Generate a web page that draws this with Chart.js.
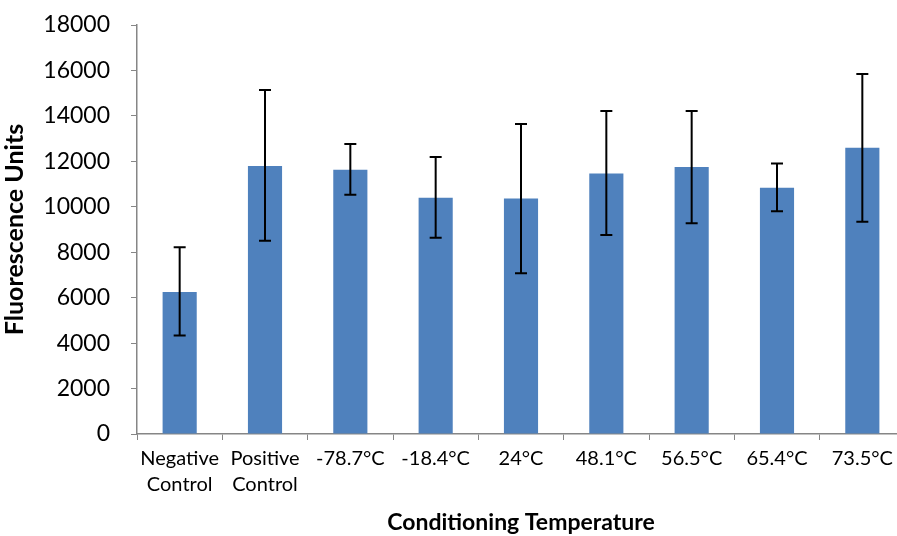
<!DOCTYPE html>
<html>
<head>
<meta charset="utf-8">
<script src="https://cdn.jsdelivr.net/npm/chart.js@4.4.1/dist/chart.umd.min.js"></script>
<style>
  html, body { margin: 0; padding: 0; background: #fff; overflow: hidden; }
  #wrap { width: 905px; height: 536px; }
</style>
</head>
<body>
<div id="wrap"><canvas id="chart"></canvas></div>
<script>
const categories = [['Negative', 'Control'], ['Positive', 'Control'], '-78.7°C', '-18.4°C', '24°C', '48.1°C', '56.5°C', '65.4°C', '73.5°C'];
const means   = [6250, 11800, 11630, 10400, 10360, 11460, 11750, 10840, 12600];
const errHigh = [8220, 15140, 12760, 12190, 13640, 14220, 14220, 11910, 15840];
const errLow  = [4340, 8510, 10530, 8640, 7070, 8760, 9270, 9800, 9340];

const BAR   = '#4F81BD';
const AXIS  = '#868686';
const TEXT  = '#000000';
const FONT  = "Lato, 'Open Sans', sans-serif";

// whiskers drawn through the scales from errHigh / errLow
const errorBars = {
  id: 'errorBars',
  afterDatasetsDraw(chart) {
    const { ctx, scales: { x, y } } = chart;
    ctx.save();
    ctx.strokeStyle = '#000';
    ctx.lineWidth = 2;
    errHigh.forEach((hi, i) => {
      const cx = x.getPixelForValue(i);
      const yTop = y.getPixelForValue(hi);
      const yBot = y.getPixelForValue(errLow[i]);
      ctx.beginPath();
      ctx.moveTo(cx, yTop); ctx.lineTo(cx, yBot);
      ctx.moveTo(cx - 6, yTop); ctx.lineTo(cx + 6, yTop);
      ctx.moveTo(cx - 6, yBot); ctx.lineTo(cx + 6, yBot);
      ctx.stroke();
    });
    ctx.restore();
  }
};

new Chart(document.getElementById('chart'), {
  type: 'bar',
  data: {
    labels: categories,
    datasets: [{
      data: means,
      backgroundColor: BAR,
      borderWidth: 0,
      barPercentage: 1,
      categoryPercentage: 0.4,
    }],
  },
  options: {
    responsive: true,
    maintainAspectRatio: false,
    animation: false,
    layout: { padding: { top: 25, left: 0, right: 0, bottom: 0 } },
    plugins: { legend: { display: false }, tooltip: { enabled: false } },
    scales: {
      x: {
        grid: { drawOnChartArea: false, color: AXIS, tickLength: 6, offset: true },
        border: { color: AXIS, width: 1.5 },
        ticks: { color: TEXT, font: { family: FONT, size: 20, lineHeight: 1.3 }, padding: 6, maxRotation: 0, autoSkip: false },
        title: {
          display: true,
          text: 'Conditioning Temperature',
          color: TEXT,
          font: { family: FONT, size: 23, weight: 'bold' },
          padding: { top: 10, bottom: 0 },
        },
        afterFit: s => { s.height = 102; },
      },
      y: {
        min: 0,
        max: 18000,
        grid: { drawOnChartArea: false, color: AXIS, tickLength: 6 },
        border: { color: AXIS, width: 1.5 },
        ticks: { stepSize: 2000, color: TEXT, font: { family: FONT, size: 23 }, padding: 21, callback: v => String(v) },
        title: {
          display: true,
          text: 'Fluorescence Units',
          color: TEXT,
          font: { family: FONT, size: 25, weight: 'bold' },
          padding: { top: 0, bottom: 4 },
        },
        afterFit: s => { s.width = 137; s.paddingTop = 0; s.paddingBottom = 0; },
      },
    },
  },
  plugins: [errorBars],
});
</script>
</body>
</html>
